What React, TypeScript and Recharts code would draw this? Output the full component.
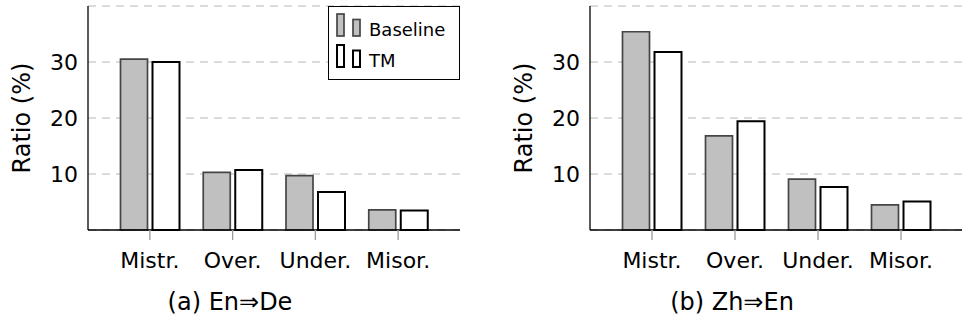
import React from 'react';
import { BarChart, Bar, XAxis, YAxis, CartesianGrid, Legend } from 'recharts';

const categories = ['Mistr.', 'Over.', 'Under.', 'Misor.'];
const enDeBaseline = [30.5, 10.3, 9.7, 3.6];
const enDeTM = [30.0, 10.7, 6.8, 3.5];
const zhEnBaseline = [35.4, 16.8, 9.1, 4.5];
const zhEnTM = [31.8, 19.4, 7.7, 5.1];
const yTicks = [10, 20, 30];

// no serif face in the sandbox, DejaVu Sans gives the closest metrics
const FONT = 'DejaVu Sans';
const textStyle = { fontFamily: FONT };

const seriesStyle: Record<string, { fill: string; stroke: string; strokeWidth: number }> = {
  Baseline: { fill: '#c0c0c0', stroke: '#454545', strokeWidth: 1.7 },
  TM: { fill: '#ffffff', stroke: '#000000', strokeWidth: 2 },
};

const buildRows = (baseline: number[], tm: number[]) =>
  categories.map((name, i) => ({ name, Baseline: baseline[i], TM: tm[i] }));

const LegendBox = ({ payload }: any) => (
  <div style={{ width: 132, height: 74, border: '1.3px solid #000', background: '#fff', boxSizing: 'border-box' }}>
    <svg width={130} height={72}>
      {(payload || []).map((entry: any, i: number) => {
        const s = seriesStyle[entry.value] || seriesStyle.TM;
        const base = 29 + i * 31;
        return (
          <g key={entry.value}>
            <rect x={8} y={base - 22} width={7} height={22} fill={s.fill} stroke={s.stroke} strokeWidth={s.strokeWidth} />
            <rect x={24} y={base - 16.5} width={7} height={16.5} fill={s.fill} stroke={s.stroke} strokeWidth={s.strokeWidth} />
            <text x={40} y={base} fontSize={18} style={textStyle} fill="#000">{entry.value}</text>
          </g>
        );
      })}
    </svg>
  </div>
);

interface PanelProps {
  rows: { name: string; Baseline: number; TM: number }[];
  caption: string;
  width: number;
  marginLeft: number;
  marginRight: number;
  showLegend?: boolean;
}

const Panel = ({ rows, caption, width, marginLeft, marginRight, showLegend }: PanelProps) => (
  <BarChart
    width={width}
    height={324}
    data={rows}
    margin={{ top: 6, right: marginRight, left: marginLeft, bottom: 0 }}
    barSize={27}
    barGap={5}
    style={textStyle}
  >
    <CartesianGrid vertical={false} stroke="#b8b8b8" strokeWidth={1.2} strokeDasharray="8 6" />
    <XAxis
      dataKey="name"
      height={94}
      padding={{ left: 20.5, right: 20.5 }}
      axisLine={{ stroke: '#000', strokeWidth: 1.3 }}
      tickLine={{ stroke: '#9a9a9a', strokeWidth: 1.3 }}
      tickSize={10}
      tickMargin={12}
      tick={{ fill: '#000', fontSize: 22, style: textStyle }}
      interval={0}
      label={{
        content: ({ viewBox }: any) => (
          <text x={viewBox.x + 142} y={viewBox.y + 80} textAnchor="middle" fontSize={24} style={textStyle} fill="#000">
            {caption}
          </text>
        ),
      }}
    />
    <XAxis
      xAxisId="top"
      dataKey="name"
      orientation="top"
      height={0}
      tick={false}
      tickLine={false}
      axisLine={{ stroke: '#000', strokeWidth: 1.3 }}
    />
    <YAxis
      width={88}
      domain={[0, 40]}
      ticks={yTicks}
      axisLine={{ stroke: '#000', strokeWidth: 1.3 }}
      tickLine={false}
      tickSize={0}
      tickMargin={10}
      tick={{ fill: '#000', fontSize: 22, style: textStyle }}
      label={{
        content: ({ viewBox }: any) => {
          const lx = viewBox.x + 29.5;
          const ly = viewBox.y + viewBox.height / 2;
          return (
            <text x={lx} y={ly} transform={`rotate(-90 ${lx} ${ly})`} textAnchor="middle" fontSize={24} style={textStyle} fill="#000">
              Ratio (%)
            </text>
          );
        },
      }}
    />
    <YAxis
      yAxisId="right"
      orientation="right"
      width={0}
      tick={false}
      tickLine={false}
      axisLine={{ stroke: '#000', strokeWidth: 1.3 }}
    />
    {showLegend && (
      <Legend
        layout="vertical"
        align="center"
        verticalAlign="middle"
        content={<LegendBox />}
        wrapperStyle={{ position: 'absolute', left: 328, top: 6, width: 132, height: 74 }}
      />
    )}
    <Bar dataKey="Baseline" name="Baseline" {...seriesStyle.Baseline} isAnimationActive={false} />
    <Bar dataKey="TM" name="TM" {...seriesStyle.TM} isAnimationActive={false} />
  </BarChart>
);

export default function App() {
  return (
    <div
      style={{
        position: 'absolute',
        left: 0,
        top: 0,
        width: 962,
        height: 324,
        overflow: 'hidden',
        background: '#fff',
        fontFamily: FONT,
      }}
    >
      <div style={{ position: 'absolute', left: 0, top: 0 }}>
        <Panel rows={buildRows(enDeBaseline, enDeTM)} caption="(a) En⇒De" width={480} marginLeft={0} marginRight={20} showLegend />
      </div>
      <div style={{ position: 'absolute', left: 480, top: 0 }}>
        <Panel rows={buildRows(zhEnBaseline, zhEnTM)} caption="(b) Zh⇒En" width={484} marginLeft={22} marginRight={1} />
      </div>
    </div>
  );
}
